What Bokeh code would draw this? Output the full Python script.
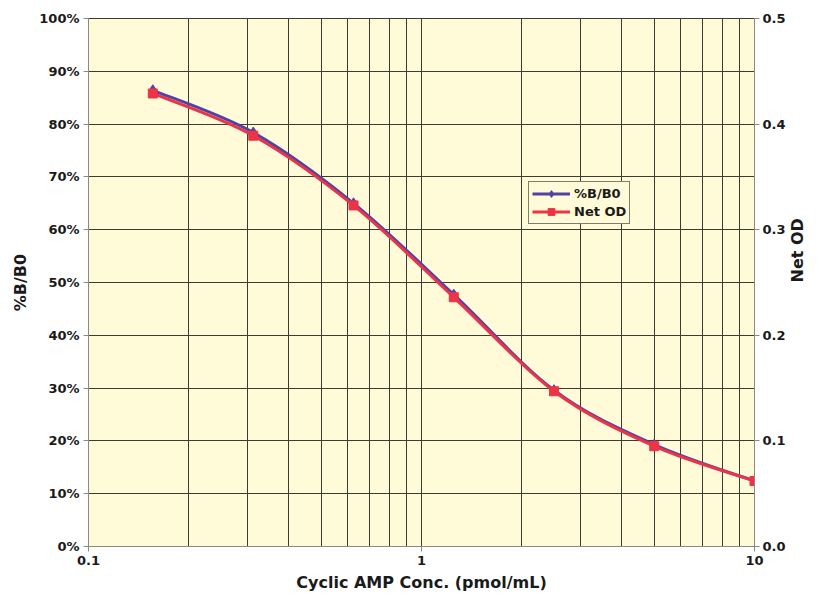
import math
import numpy as np
from bokeh.plotting import figure
from bokeh.models import (Range1d, LinearAxis, PrintfTickFormatter, Legend,
                          LegendItem, FixedTicker)
from bokeh.embed import file_html
from bokeh.resources import INLINE

# ---- data ----
conc = [0.156, 0.3125, 0.625, 1.25, 2.5, 5.0, 10.0]
pct_b_b0 = [86.4, 78.4, 65.0, 47.7, 29.6, 19.3, 12.4]
net_od = [0.429, 0.389, 0.323, 0.236, 0.147, 0.095, 0.062]
left_ticks = [0, 10, 20, 30, 40, 50, 60, 70, 80, 90, 100]
right_ticks = [0.0, 0.1, 0.2, 0.3, 0.4, 0.5]
x_ticks = [0.1, 1, 10]
x_minor = [m * 10.0 ** e for e in (-1, 0) for m in range(2, 10)]

FONT = "DejaVu Sans"
BG = "#FFFBD8"
GRID = "#3c3c34"
BLUE = "#5342A5"
RED = "#EC3347"

p = figure(width=819, height=594, x_axis_type="log",
           x_range=Range1d(0.1, 10), y_range=Range1d(0, 100),
           output_backend="svg", toolbar_location=None,
           min_border_left=88, min_border_right=50,
           min_border_top=18, min_border_bottom=45)
p.extra_y_ranges = {"od": Range1d(0, 0.5)}
p.background_fill_color = BG
p.border_fill_color = "white"
p.outline_line_color = GRID
p.outline_line_width = 1

left = p.left[0]
bottom = p.below[0]

bottom.ticker = FixedTicker(ticks=x_ticks, minor_ticks=x_minor)
bottom.major_label_overrides = {0.1: "0.1", 1: "1", 10: "10"}
bottom.axis_label = "Cyclic AMP Conc. (pmol/mL)"

left.ticker = FixedTicker(ticks=left_ticks)
left.formatter = PrintfTickFormatter(format="%d%%")
left.axis_label = "%B/B0"

right = LinearAxis(y_range_name="od", ticker=FixedTicker(ticks=right_ticks),
                   formatter=PrintfTickFormatter(format="%.1f"),
                   axis_label="Net OD")
right.axis_label_orientation = math.pi / 2
p.add_layout(right, "right")

for ax in (left, bottom, right):
    ax.axis_line_color = "#8a8a80"
    ax.major_tick_line_color = "#8a8a80"
    ax.minor_tick_line_color = None
    ax.major_tick_in = 0
    ax.major_tick_out = 5
    ax.major_label_text_font = FONT
    ax.major_label_text_font_style = "bold"
    ax.major_label_text_font_size = "13px"
    ax.major_label_text_color = "#1a1a1a"
    ax.axis_label_text_font = FONT
    ax.axis_label_text_font_style = "bold"
    ax.axis_label_text_font_size = "16px"
    ax.axis_label_text_color = "#1a1a1a"
    ax.major_label_standoff = 4
    ax.axis_label_standoff = 6
right.major_label_standoff = 3
right.axis_label_standoff = 9
bottom.axis_label_standoff = 5

# grid
p.xgrid.grid_line_color = GRID
p.xgrid.grid_line_width = 1
p.xgrid.minor_grid_line_color = GRID
p.xgrid.minor_grid_line_width = 1
p.ygrid.grid_line_color = GRID
p.ygrid.grid_line_width = 1


# smooth (Excel-like) curves drawn as cubic Bezier segments in log-x space
def bezier_segments(xs, ys):
    u = np.log10(np.asarray(xs, float))
    v = np.asarray(ys, float)
    n = len(u)
    x0, y0, x1, y1, cx0, cy0, cx1, cy1 = ([] for _ in range(8))
    for i in range(n - 1):
        im1 = max(i - 1, 0)
        ip2 = min(i + 2, n - 1)
        c1u = u[i] + (u[i + 1] - u[im1]) / 6.0
        c1v = v[i] + (v[i + 1] - v[im1]) / 6.0
        c2u = u[i + 1] - (u[ip2] - u[i]) / 6.0
        c2v = v[i + 1] - (v[ip2] - v[i]) / 6.0
        x0.append(10 ** u[i]); y0.append(v[i])
        x1.append(10 ** u[i + 1]); y1.append(v[i + 1])
        cx0.append(10 ** c1u); cy0.append(c1v)
        cx1.append(10 ** c2u); cy1.append(c2v)
    return dict(x0=x0, y0=y0, x1=x1, y1=y1, cx0=cx0, cy0=cy0, cx1=cx1, cy1=cy1)


bb = bezier_segments(conc, pct_b_b0)
rb = p.bezier(line_color=BLUE, line_width=3, **bb)
sb = p.scatter(conc, pct_b_b0, marker="diamond", size=11, fill_color=BLUE,
               line_color=BLUE)

bo = bezier_segments(conc, net_od)
ro = p.bezier(line_color=RED, line_width=3, y_range_name="od", **bo)
so = p.scatter(conc, net_od, marker="square", size=9, fill_color=RED,
               line_color=RED, y_range_name="od")

legend = Legend(items=[LegendItem(label="%B/B0", renderers=[rb, sb], index=0),
                       LegendItem(label="Net OD", renderers=[ro, so], index=0)],
                location=(440, 322))
legend.background_fill_color = BG
legend.background_fill_alpha = 1
legend.border_line_color = "black"
legend.border_line_width = 1
legend.label_text_font = FONT
legend.label_text_font_style = "bold"
legend.label_text_font_size = "13px"
legend.label_text_color = "#1a1a1a"
legend.glyph_width = 38
legend.glyph_height = 17
legend.label_height = 17
legend.spacing = 1
legend.padding = 3
legend.margin = 0
legend.label_standoff = 4
p.add_layout(legend, "center")

open("out.html", "w").write(file_html(p, INLINE))
